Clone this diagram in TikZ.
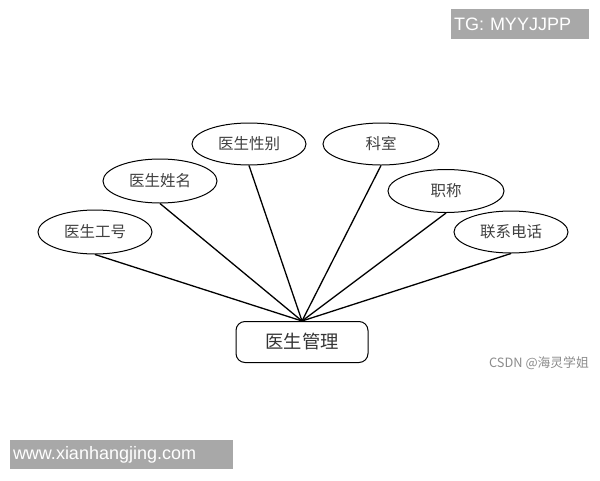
\documentclass[tikz,border=0pt]{standalone}
\usepackage{fontspec}
\setmainfont{Liberation Sans}
\newfontfamily\cjk{Noto Sans CJK SC}
\usetikzlibrary{shapes.geometric}
\begin{document}
\begin{tikzpicture}[x=1pt,y=-1pt,
  attr/.style={draw=black,line width=1pt,ellipse,minimum width=114pt,minimum height=44pt,inner sep=0pt,font=\cjk\fontsize{15.5}{15.5}\selectfont,text=black!75},
  ent/.style={draw=black,line width=1pt,rounded corners=9pt,minimum width=132pt,minimum height=41pt,inner sep=0pt,font=\cjk\fontsize{18.3}{18.3}\selectfont,text=black!80},
  link/.style={line width=1.3pt,black},
  wm/.style={fill=black!34,text=white,inner sep=0pt,font=\fontsize{18}{18}\selectfont}]
\useasboundingbox (0,0) rectangle (600,480);
\fill[white] (0,0) rectangle (600,480);
\node[attr] (a1) at (95,232) {医生工号};
\node[attr] (a2) at (160,181) {医生姓名};
\node[attr,minimum height=42pt] (a3) at (249,144) {医生性别};
\node[attr,minimum width=116pt,minimum height=42pt] (a4) at (381,144) {科室};
\node[attr,minimum width=116pt,minimum height=43pt] (a5) at (446,191) {职称};
\node[attr,minimum height=42pt] (a6) at (511,232) {联系电话};
\node[ent] (e) at (302,342) {医生管理};
\foreach \n in {a1,a2,a3,a4,a5,a6} \draw[link] (\n.south) -- (e.north);
\node[wm,minimum width=138pt,minimum height=30pt,text width=132pt,align=left] (tg) at (520,24) {TG: MYYJJPP};
\node[wm,minimum width=223pt,minimum height=29pt,text width=217pt,align=left] (www) at (121.5,454.5) {www.xianhangjing.com};
\node[font=\cjk\fontsize{12.8}{12.8}\selectfont,text=black!45,inner sep=0pt] (csdn) at (539,363) {CSDN @海灵学姐};
\end{tikzpicture}
\end{document}
